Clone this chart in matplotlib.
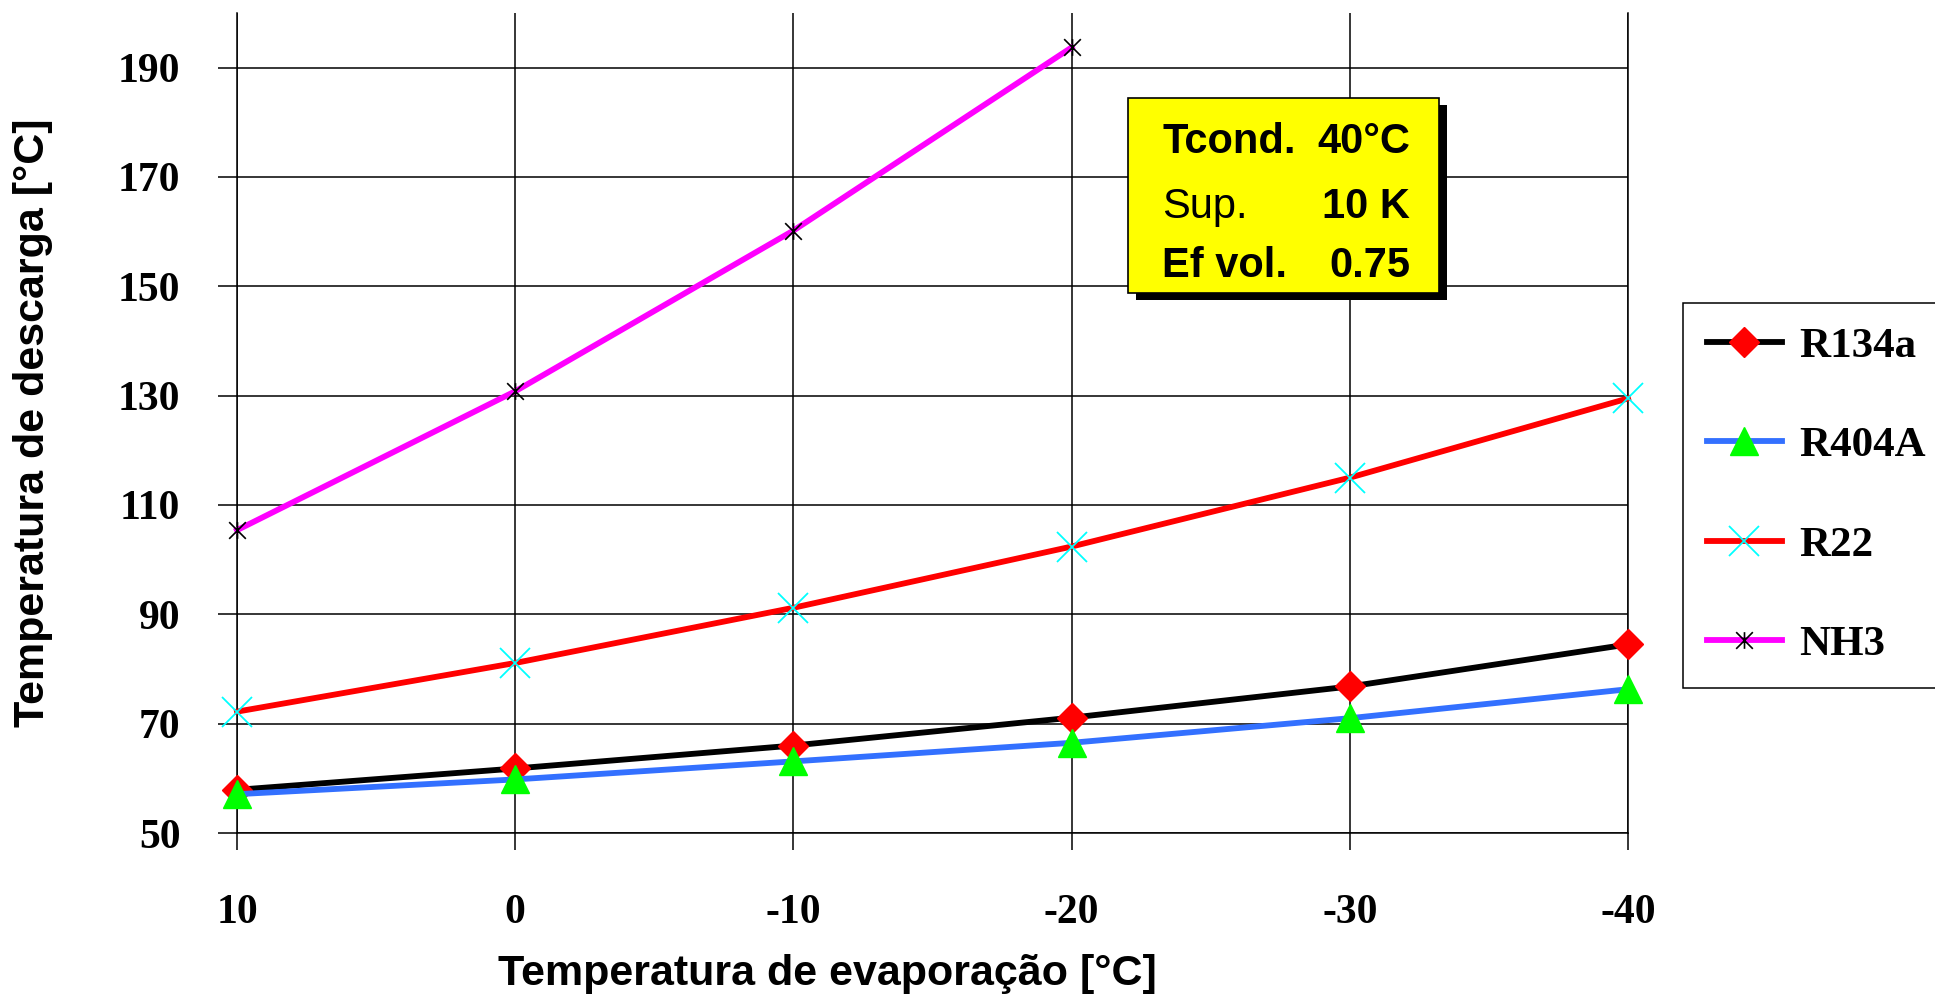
import matplotlib
matplotlib.use('Agg')
import matplotlib.pyplot as plt
from matplotlib.path import Path
from matplotlib.patches import Rectangle

# Data
evap_temp = [10, 0, -10, -20, -30, -40]
r134a = [57.9, 61.8, 66.0, 71.1, 76.8, 84.5]
r404a = [57.1, 59.8, 63.1, 66.5, 71.0, 76.3]
r22 = [72.2, 81.1, 91.2, 102.4, 115.0, 129.5]
nh3_temp = [10, 0, -10, -20]
nh3 = [105.4, 130.8, 160.2, 193.7]

y_ticks = [50, 70, 90, 110, 130, 150, 170, 190]

W, H = 1935, 999
serif = 'Liberation Serif'
sans = 'Liberation Sans'
plt.rcParams['axes.unicode_minus'] = False

fig = plt.figure(figsize=(W / 100, H / 100), dpi=100)
ax = fig.add_axes([237 / W, 1 - 833 / H, (1628 - 237) / W, (833 - 13) / H])


def px(x, y):
    return x / W, 1 - y / H


# excel-like star marker: an x with a vertical bar through it
star = Path([(-1, -1), (1, 1), (-1, 1), (1, -1), (0, -1), (0, 1)],
            [Path.MOVETO, Path.LINETO, Path.MOVETO, Path.LINETO, Path.MOVETO, Path.LINETO])

lw = 4.2
ax.plot(evap_temp, r134a, color='black', lw=lw, marker='D', ms=15,
        mfc='#FF0000', mec='#FF0000', label='R134a', clip_on=False, zorder=3)
ax.plot(evap_temp, r404a, color='#3370FF', lw=lw, marker='^', ms=20,
        mfc='#00FF00', mec='#00FF00', label='R404A', clip_on=False, zorder=3)
ax.plot(evap_temp, r22, color='#FF0000', lw=lw, marker='x', ms=21, mew=1.3,
        mec='#00FFFF', label='R22', clip_on=False, zorder=3)
ax.plot(nh3_temp, nh3, color='#FF00FF', lw=lw, marker=star, ms=12, mew=1.2,
        mec='black', label='NH3', clip_on=False, zorder=3)

ax.set_xlim(10, -40)
ax.set_ylim(50, 200)
ax.set_xticks(evap_temp)
ax.set_yticks(y_ticks)
ax.grid(True, color='black', lw=1.1)
ax.set_axisbelow(True)
ax.spines['top'].set_visible(False)
for s in ['left', 'bottom', 'right']:
    ax.spines[s].set_linewidth(1.1)

ax.tick_params(axis='y', direction='out', length=13.7, width=1.1, pad=27)
ax.tick_params(axis='x', direction='out', length=12, width=1.1, pad=32)
for lab in ax.get_xticklabels() + ax.get_yticklabels():
    lab.set_fontfamily(serif)
    lab.set_fontweight('bold')
    lab.set_fontsize(30)

fig.text(827 / W, 1 - 974 / H, 'Temperatura de evaporação [°C]', family=sans,
         weight='bold', fontsize=31, ha='center', va='center')
fig.text(33 / W, 1 - 423 / H, 'Temperatura de descarga [°C]', family=sans,
         weight='bold', fontsize=31, ha='center', va='center', rotation=90)

leg = ax.legend(loc='upper left', bbox_to_anchor=px(1683, 303), bbox_transform=fig.transFigure,
                borderaxespad=0, fancybox=False, framealpha=1, edgecolor='black',
                prop={'family': serif, 'weight': 'bold', 'size': 31},
                handlelength=1.75, handletextpad=0.4, labelspacing=1.4, borderpad=0.55)
leg.get_frame().set_linewidth(1.1)

# annotation box with shadow
x0, y0, x1, y1 = 1128, 98, 1439, 293
fig.add_artist(Rectangle(px(x0 + 8, y1 + 7), (x1 - x0) / W, (y1 - y0) / H,
                         transform=fig.transFigure, facecolor='black', edgecolor='none', zorder=5))
fig.add_artist(Rectangle(px(x0, y1), (x1 - x0) / W, (y1 - y0) / H,
                         transform=fig.transFigure, facecolor='#FFFF00', edgecolor='black',
                         lw=1.2, zorder=6))
rows = [('Tcond.', '40°C', 153, 'bold'), ('Sup.', '10 K', 218, 'normal'), ('Ef vol.', '0.75', 277, 'bold')]
for left, right, base, w in rows:
    fig.text(*px(1162, base), left, family=sans, weight=w, fontsize=30,
             ha='left', va='baseline', zorder=7)
    fig.text(*px(1410, base), right, family=sans, weight='bold', fontsize=30,
             ha='right', va='baseline', zorder=7)

fig.savefig('out.png', dpi=100)
